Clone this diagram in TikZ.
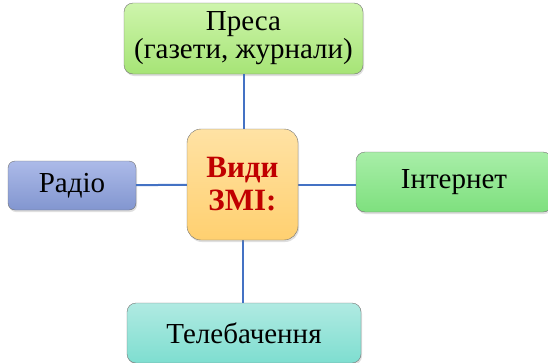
\documentclass[tikz,border=0pt]{standalone}
\usepackage{fontspec}
\setmainfont{Liberation Serif}
\usetikzlibrary{positioning,shadows}

\definecolor{linkblue}{RGB}{68,114,196}
\definecolor{darkred}{RGB}{192,0,0}

\tikzset{
  box/.style={draw=black!55, rounded corners=9pt, inner sep=0pt, text=black,
    font=\fontsize{29}{28}\selectfont, align=center,
    drop shadow={opacity=0.25, shadow xshift=1pt, shadow yshift=-2pt}},
  link/.style={draw=linkblue, line width=2pt},
}

\begin{document}
\begin{tikzpicture}[x=1pt,y=-1pt]

\useasboundingbox (0,0) rectangle (548,362);

\coordinate (c) at (242.5,184.5);

% Boxes
\node[box, minimum width=239pt, minimum height=71pt,
  top color={rgb,255:red,206;green,245;blue,172}, bottom color={rgb,255:red,166;green,228;blue,118}]
  (press) at (243.5,38.5) {Преса\\(газети, журнали)};

\node[box, minimum width=128pt, minimum height=49pt, rounded corners=7pt,
  top color={rgb,255:red,172;green,186;blue,232}, bottom color={rgb,255:red,130;green,150;blue,208}]
  (radio) at (72,185.5) {Радіо};

\node[box, minimum width=196pt, minimum height=60pt,
  top color={rgb,255:red,168;green,238;blue,168}, bottom color={rgb,255:red,126;green,224;blue,126}]
  (net) at (454,182) {Інтернет};

\node[box, minimum width=234pt, minimum height=60pt,
  top color={rgb,255:red,176;green,234;blue,226}, bottom color={rgb,255:red,126;green,222;blue,208}]
  (tv) at (244,333) {Телебачення};

% Lines
\draw[link] (press) -- (press |- c);
\draw[link] (radio) -- (c);
\draw[link] (c) -- (c -| net.west);
\draw[link] (c) -- (c |- tv.north);

% Centre
\node[box, minimum width=111pt, minimum height=111pt, rounded corners=14pt,
  text=darkred, font=\fontsize{31}{33}\selectfont\bfseries,
  top color={rgb,255:red,255;green,226;blue,164}, bottom color={rgb,255:red,255;green,208;blue,112}]
  (media) at (c) {Види\\ЗМІ:};

\end{tikzpicture}
\end{document}
